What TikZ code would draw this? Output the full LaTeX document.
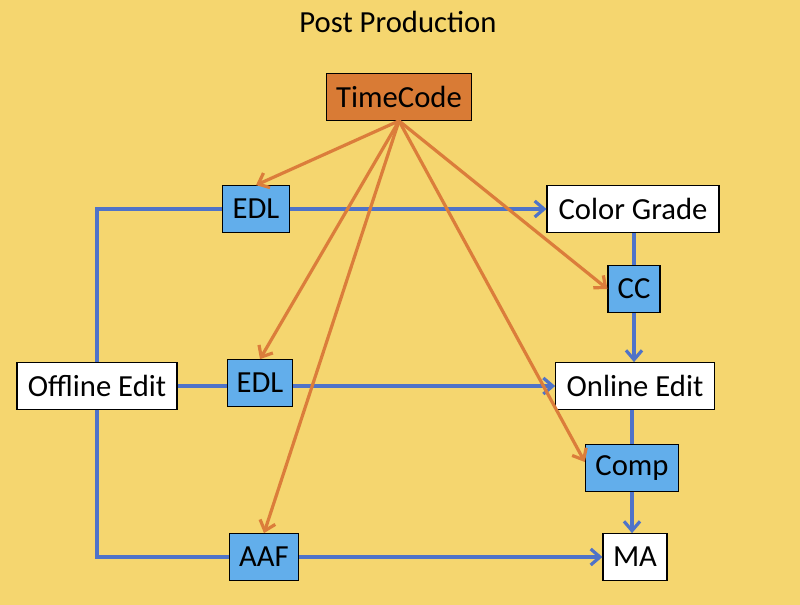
\documentclass[tikz,border=0pt]{standalone}
\usepackage{fontspec}
\setmainfont{Carlito}
\usepackage{tikz}
\usetikzlibrary{calc,arrows.meta}
\definecolor{bgyellow}{HTML}{F5D66F}
\definecolor{tcorange}{HTML}{D97B35}
\definecolor{arrorange}{HTML}{DB7D3B}
\definecolor{boxblue}{HTML}{62AEEB}
\definecolor{lineblue}{HTML}{4F73C8}

\begin{document}
\begin{tikzpicture}[x=0.75pt,y=-0.75pt,
    every node/.style={font=\fontsize{23}{27}\selectfont},
    whitebox/.style={draw=black,line width=0.8pt,fill=white,inner sep=0pt,minimum height=35pt},
    bluebox/.style={whitebox,fill=boxblue},
    flow/.style={draw=lineblue,line width=2.4pt},
    flowarr/.style={flow,-{Straight Barb[length=7pt,width=12pt,line width=2.4pt]}},
    stamp/.style={draw=arrorange,line width=2.4pt,-{Straight Barb[length=7pt,width=12pt,line width=2.4pt]}}]
              \fill[bgyellow] (0,0) rectangle (800,605);
              \useasboundingbox (0,0) rectangle (800,605);
              \node (title) at (398,22) {Post Production};
              % boxes
              \node[whitebox,fill=tcorange,minimum width=108.75pt](tc)at(399,97){TimeCode};
              \node[whitebox,minimum width=120pt](off)at(97,386){Offline Edit};
              \node[whitebox,minimum width=129pt](cg)at(633,209){Color Grade};
              \node[whitebox,minimum width=119pt](on)at(635,386){Online Edit};
              \node[whitebox,minimum width=48pt](ma)at(635,557){MA};
              \node[bluebox,minimum width=50pt](edla)at(256,209){EDL};
              \node[bluebox,minimum width=49pt](edlb)at(260,383){EDL};
              \node[bluebox,minimum width=52pt](aaf)at(264,557){AAF};
              \node[bluebox,minimum width=39pt](cc)at(634,289){CC};
              \node[bluebox,minimum width=70pt](comp)at(632,468){Comp};
              % blue lines
              \draw[flow] (off.north) |- (edla.west);
              \draw[flowarr] (edla.east) -- (cg.west);
              \draw[flow] (off.east) -- (off.east -| edlb.west);
              \draw[flowarr] (off.east -| edlb.east) -- (on.west);
              \draw[flow] (off.south) |- (aaf.west);
              \draw[flowarr] (aaf.east) -- (ma.west);
              \draw[flow] (cg.south -| cc.north) -- (cc.north);
              \draw[flowarr] (cc.south) -- (cc.south |- on.north);
              \draw[flow] (on.south -| comp.north) -- (comp.north);
              \draw[flowarr] (comp.south) -- (comp.south |- ma.north);
              % orange arrows
              \draw[stamp] (tc.south) -- (edla.north);
              \draw[stamp] (tc.south) -- (edlb.north);
              \draw[stamp] (tc.south) -- (aaf.north);
              \draw[stamp] (tc.south) -- (cc.west);
              \draw[stamp] (tc.south) -- ($(comp.west)+(0,-6)$);
            \end{tikzpicture}
\end{document}
